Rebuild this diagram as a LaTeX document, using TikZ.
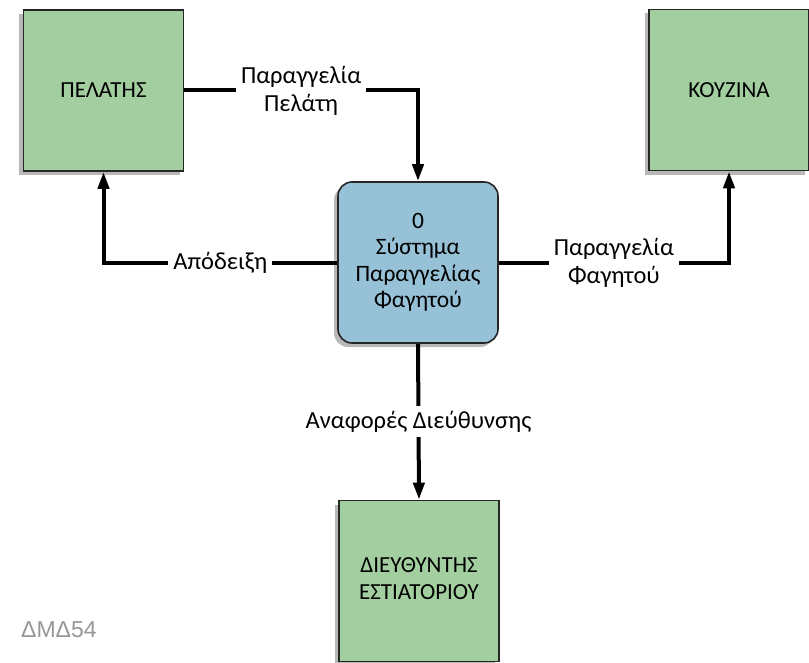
\documentclass[tikz,border=0pt]{standalone}
\usepackage{fontspec}
\setmainfont{Carlito}
\newfontfamily\graysf{Liberation Sans}
\usetikzlibrary{shadows,arrows.meta}
\definecolor{extgreen}{RGB}{163,207,160}
\definecolor{procblue}{RGB}{150,193,215}
\definecolor{tagray}{RGB}{150,150,150}
\begin{document}
\begin{tikzpicture}[x=1bp,y=-1bp,
  boxshadow/.style={drop shadow={shadow xshift=-4bp,shadow yshift=-4bp,fill=black,opacity=.28}},
  ext/.style={draw=black!85,line width=1.6bp,fill=extgreen,minimum width=160bp,minimum height=161bp,
    align=center,font=\fontsize{23bp}{27bp}\selectfont,inner sep=0pt,boxshadow},
  proc/.style={ext,fill=procblue,rounded corners=14bp,font=\fontsize{23.5bp}{26.5bp}\selectfont},
  flow/.style={line width=4bp,draw=black,-{Triangle[length=17bp,width=11bp]}},
  lbl/.style={fill=white,align=center,font=\fontsize{24.5bp}{28bp}\selectfont,inner sep=5bp}
]
\useasboundingbox (0,0) rectangle (809,663);
\node[ext] (cust) at (103.5,90.5) {ΠΕΛΑΤΗΣ};
\node[ext] (kit) at (729,90) {ΚΟΥΖΙΝΑ};
\node[proc] (sys) at (418,262.5) {\raisebox{5bp}{\begin{tabular}{@{}c@{}}0\\Σύστημα\\Παραγγελίας\\Φαγητού\end{tabular}}};
\node[ext] (mgr) at (419,581) {\raisebox{-4bp}{\begin{tabular}{@{}c@{}}ΔΙΕΥΘΥΝΤΗΣ\\ΕΣΤΙΑΤΟΡΙΟΥ\end{tabular}}};

\draw[flow] (cust.east) -| node[lbl,pos=0.25] (l1) {Παραγγελία\\Πελάτη} (sys.north);
\draw[flow] (sys.west) -| node[lbl,pos=0.25] (l2) {Απόδειξη} (cust.south);
\draw[flow] (sys.east) -| node[lbl,pos=0.25] (l3) {Παραγγελία\\Φαγητού} (kit.south);
\draw[flow] (sys.south) -- node[lbl,midway] (l4) {Αναφορές Διεύθυνσης} (mgr.north);

\node[anchor=west,text=tagray,font=\graysf\fontsize{23bp}{26bp}\selectfont,inner sep=0pt] (tag) at (21,630) {ΔΜΔ54};
\end{tikzpicture}
\end{document}
